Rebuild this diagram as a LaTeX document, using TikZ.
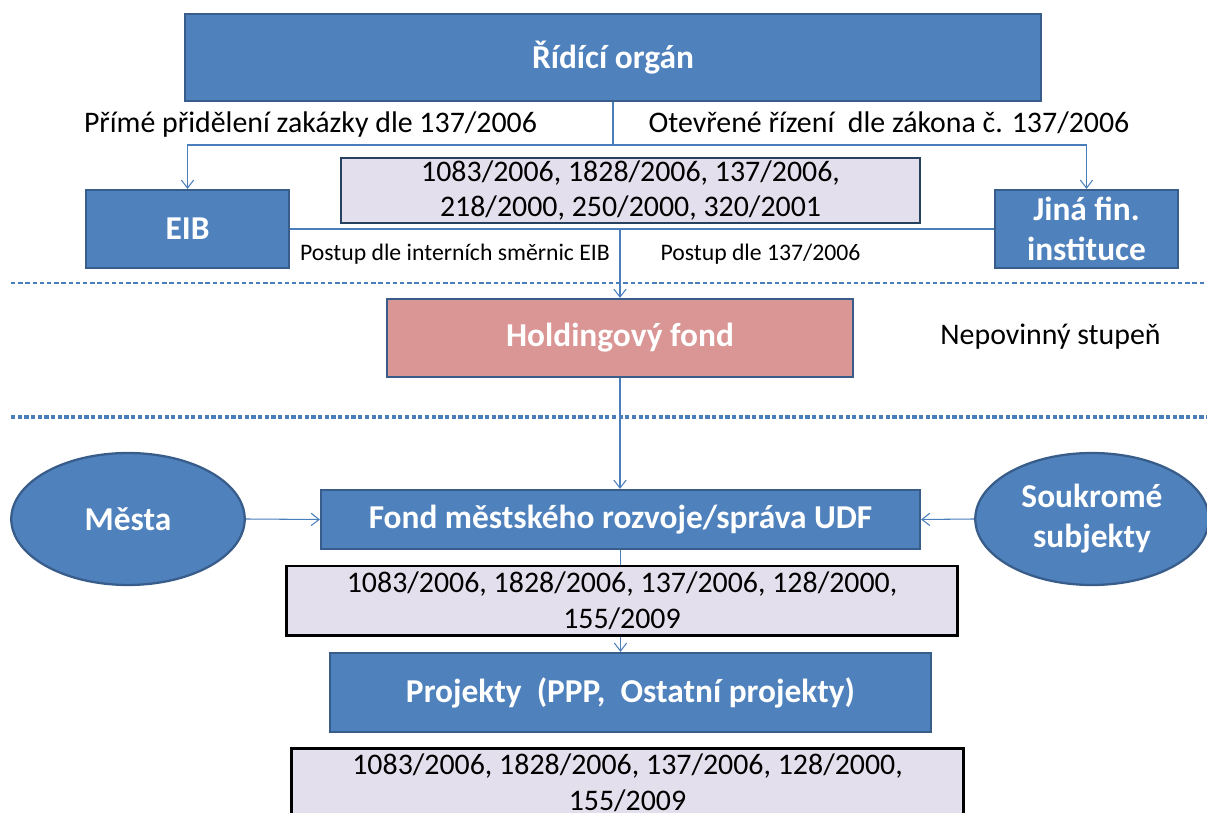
\documentclass[tikz,border=0pt]{standalone}
\usepackage{fontspec}
\setmainfont{Carlito}
\usetikzlibrary{arrows.meta, shapes.geometric, backgrounds}
\definecolor{boxblue}{HTML}{4F81BD}
\definecolor{boxedge}{HTML}{385D8A}
\definecolor{holdpink}{HTML}{D99694}
\definecolor{lawgray}{HTML}{E4DFEC}
\definecolor{linkblue}{HTML}{4A7EBB}
\tikzset{
  box/.style={draw=boxedge, line width=1.3pt, fill=boxblue, text=white, align=center, inner sep=0pt,
    font=\fontsize{19}{22.7}\selectfont\bfseries},
  holdbox/.style={box, fill=holdpink},
  ell/.style={box, ellipse},
  lawbox/.style={draw=black, line width=1.7pt, fill=lawgray, align=center, inner sep=0pt,
    font=\fontsize{17}{20.4}\selectfont},
  lbl/.style={inner sep=0pt, anchor=base, font=\fontsize{17}{20.4}\selectfont},
  smalllbl/.style={inner sep=0pt, anchor=base, font=\fontsize{13.5}{16}\selectfont},
  link/.style={draw=linkblue, line width=0.6pt},
  arr/.style={link, -{Straight Barb[length=4.5pt,width=7pt]}}
}
\begin{document}
\begin{tikzpicture}[x=0.02cm, y=-0.02cm]
\useasboundingbox (0,0) rectangle (1207,813);
\clip (0,0) rectangle (1207,813);
\node[box, minimum width=17.12cm, minimum height=1.74cm] (rid) at (613,57.5) {Řídící orgán};
\node[lbl] (primelbl) at (310.5,133) {Přímé přidělení zakázky dle 137/2006};
\node[lbl] (otevlbl) at (889,133) {Otevřené řízení\ \ dle zákona č. 137/2006};
\node[lawbox, draw=boxedge!70!black, line width=1.3pt, minimum width=11.58cm, minimum height=1.3cm] (law1) at (630.5,190.5)
  {1083/2006, 1828/2006, 137/2006,\\218/2000, 250/2000, 320/2001};
\node[box, minimum width=4.06cm, minimum height=1.56cm] (eib) at (187.5,229) {EIB};
\node[box, minimum width=3.66cm, minimum height=1.56cm] (jina) at (1086.5,229) {Jiná fin.\\instituce};
\node[smalllbl] (eiblbl) at (455,261) {Postup dle interních směrnic EIB};
\node[smalllbl] (zaklbl) at (760.5,261) {Postup dle 137/2006};
\node[holdbox, minimum width=9.32cm, minimum height=1.56cm] (hold) at (620,338) {Holdingový fond};
\node[lbl] (neplbl) at (1050.5,345) {Nepovinný stupeň};
\node[box, minimum width=11.98cm, minimum height=1.18cm] (fmr) at (620.5,519.5) {Fond městského rozvoje/správa UDF};
\node[ell, minimum width=4.67cm, minimum height=2.64cm] (mesta) at (128,519) {Města};
\node[ell, minimum width=4.67cm, minimum height=2.64cm] (souk) at (1092,519) {Soukromé\\subjekty};
\node[lawbox, minimum width=13.44cm, minimum height=1.4cm] (law2) at (622,601)
  {1083/2006, 1828/2006, 137/2006, 128/2000,\\155/2009};
\node[box, minimum width=12.02cm, minimum height=1.58cm] (proj) at (630.5,692.5) {Projekty\ \ (PPP,\ \ Ostatní projekty)};
\node[lawbox, minimum width=13.44cm, minimum height=1.38cm] (law3) at (627.5,782.5)
  {1083/2006, 1828/2006, 137/2006, 128/2000,\\155/2009};

\coordinate (split) at (613,145);
\coordinate (dashA) at (11,283);
\coordinate (dashB) at (11,417);
\draw[link] (rid.south) -- (split);
\draw[arr] (split) -| (eib.north);
\draw[arr] (split) -| (jina.north);
\draw[link] (eib.east) -- (jina.west);
\draw[arr] (eib.east -| hold.north) -- (hold.north);
\draw[link, dash pattern=on 2.5pt off 1.6pt] (dashA) -- (dashA -| 1207,0);
\draw[link, line width=1.8pt, dash pattern=on 2.4pt off 1.4pt] (dashB) -- (dashB -| 1207,0);
\draw[arr] (hold.south) -- (fmr.north -| hold.south);
\draw[arr] (mesta.east) -- (fmr.west);
\draw[arr] (souk.west) -- (fmr.east);
\begin{pgfonlayer}{background}
\draw[arr] (fmr.south) -- (fmr.south |- proj.north);
\end{pgfonlayer}
\end{tikzpicture}
\end{document}
